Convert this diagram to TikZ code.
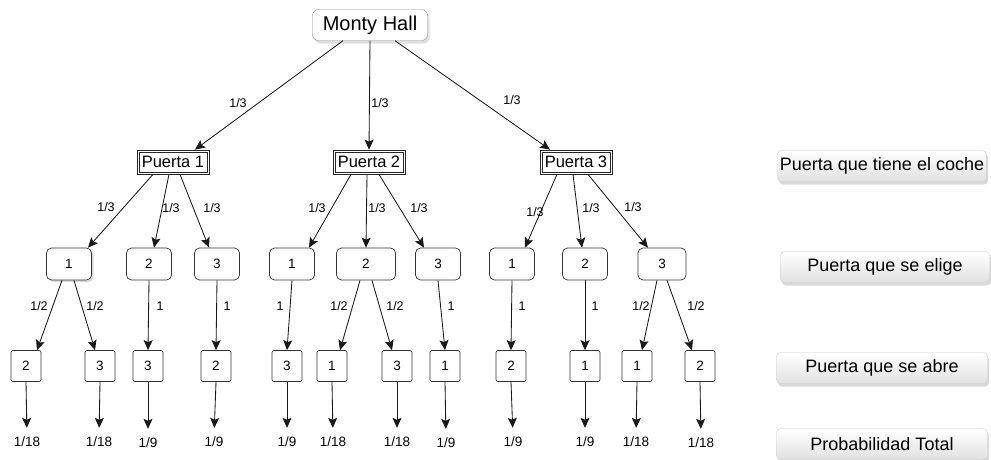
\documentclass[tikz,border=0pt]{standalone}
\usepackage{fontspec}
\setmainfont{Liberation Sans}
\usetikzlibrary{arrows.meta,shadows}
\begin{document}
\begin{tikzpicture}[x=1pt,y=-1pt,
  arr/.style={-{Stealth[length=10pt,width=9pt,inset=2pt]}, line width=0.85pt, draw=black!90},
  topbox/.style={draw=black!45, fill=white, rounded corners=6pt, minimum width=115pt, minimum height=31pt, inner sep=0pt, font=\fontsize{20}{22}\selectfont, drop shadow={shadow xshift=2pt, shadow yshift=-3pt, opacity=0.25}},
  door/.style={draw=black!85, line width=0.7pt, minimum width=72pt, minimum height=24pt, inner sep=0pt, font=\fontsize{16.5}{18}\selectfont},
  pick/.style={draw=black!80, line width=0.7pt, rounded corners=5pt, fill=white, minimum width=45pt, minimum height=32pt, inner sep=0pt, font=\fontsize{13.5}{15}\selectfont},
  leaf/.style={draw=black!80, line width=0.7pt, rounded corners=2pt, fill=white, minimum width=30pt, minimum height=31pt, inner sep=0pt, font=\fontsize{13.5}{15}\selectfont},
  lab/.style={inner sep=0pt, font=\fontsize{12.5}{14}\selectfont},
  prob/.style={inner sep=0pt, font=\fontsize{13.5}{15}\selectfont},
  inner/.style={draw=black!85, line width=0.7pt},
  side/.style={draw=black!20, rounded corners=4pt, top color=white, bottom color=black!12, minimum height=31pt, inner sep=0pt, font=\fontsize{18}{20}\selectfont, drop shadow={shadow xshift=1.5pt, shadow yshift=-3pt, opacity=0.3}}
]
\useasboundingbox (0,0) rectangle (991,459);

% root
\node[topbox] (mh) at (370,25) {Monty Hall};

% level 1
\node[door] (p1) at (173,162) {Puerta 1};
\node[door] (p2) at (369,162) {Puerta 2};
\node[door] (p3) at (576,162) {Puerta 3};
\foreach \p in {p1,p2,p3}{
  \draw[inner] ([shift={(2.5pt,-2.5pt)}]\p.north west) rectangle ([shift={(-2.5pt,2.5pt)}]\p.south east);
}

% level 2
\node[pick, drop shadow={shadow xshift=2pt, shadow yshift=-2pt, opacity=0.3}] (c11) at (69,264) {1};
\node[pick] (c12) at (149,264) {2};
\node[pick] (c13) at (217,264) {3};
\node[pick] (c21) at (292,264) {1};
\node[pick, minimum width=59pt] (c22) at (366,264) {2};
\node[pick] (c23) at (438,264) {3};
\node[pick] (c31) at (512,264) {1};
\node[pick] (c32) at (585,264) {2};
\node[pick, minimum width=48pt] (c33) at (662,264) {3};

% level 3
\node[leaf] (l1) at (26,366) {2};
\node[leaf] (l2) at (100,366) {3};
\node[leaf] (l3) at (148,366) {3};
\node[leaf] (l4) at (216,366) {2};
\node[leaf] (l5) at (287,366) {3};
\node[leaf] (l6) at (332,366) {1};
\node[leaf] (l7) at (397,366) {3};
\node[leaf] (l8) at (445,366) {1};
\node[leaf] (l9) at (511,366) {2};
\node[leaf] (l10) at (585,366) {1};
\node[leaf] (l11) at (637,366) {1};
\node[leaf] (l12) at (700,366) {2};

% totals
\node[prob] (t1) at (27,442) {1/18};
\node[prob] (t2) at (99,442) {1/18};
\node[prob] (t3) at (148,443) {1/9};
\node[prob] (t4) at (214,442) {1/9};
\node[prob] (t5) at (287,442) {1/9};
\node[prob] (t6) at (333,442) {1/18};
\node[prob] (t7) at (397,442) {1/18};
\node[prob] (t8) at (446,443) {1/9};
\node[prob] (t9) at (513,442) {1/9};
\node[prob] (t10) at (585,442) {1/9};
\node[prob] (t11) at (636,442) {1/18};
\node[prob] (t12) at (701,443) {1/18};

% side legend
\node[side, minimum width=209pt] (s1) at (882,166) {Puerta que tiene el coche};
\node[side, minimum width=209pt] (s2) at (885,267) {Puerta que se elige};
\node[side, minimum width=211pt] (s3) at (882,368) {Puerta que se abre};
\node[side, minimum width=211pt] (s4) at (882,444) {Probabilidad Total};

% root edges
\draw[arr] ([xshift=-27pt]mh.south) -- ([xshift=22pt]p1.north);
\draw[arr] (mh.south) -- (p2.north);
\draw[arr] ([xshift=25pt]mh.south) -- ([xshift=-26pt]p3.north);
\node[lab] (e01) at (238,103) {1/3};
\node[lab] (e02) at (380,103) {1/3};
\node[lab] (e03) at (512,100) {1/3};

% level 1 -> 2
\draw[arr] ([xshift=-20pt]p1.south) -- ([xshift=19pt]c11.north);
\draw[arr] ([xshift=-4pt]p1.south) -- ([xshift=5pt]c12.north);
\draw[arr] ([xshift=7pt]p1.south) -- ([xshift=-8pt]c13.north);
\draw[arr] ([xshift=-18pt]p2.south) -- ([xshift=17pt]c21.north);
\draw[arr] ([xshift=-2pt]p2.south) -- (c22.north);
\draw[arr] ([xshift=10pt]p2.south) -- ([xshift=-14pt]c23.north);
\draw[arr] ([xshift=-19pt]p3.south) -- ([xshift=13pt]c31.north);
\draw[arr] ([xshift=-3pt]p3.south) -- ([xshift=-3pt]c32.north);
\draw[arr] ([xshift=12pt]p3.south) -- ([xshift=-14pt]c33.north);
\node[lab] (e11) at (106,207) {1/3};
\node[lab] (e12) at (171,208) {1/3};
\node[lab] (e13) at (212,208) {1/3};
\node[lab] (e21) at (317,208) {1/3};
\node[lab] (e22) at (377,208) {1/3};
\node[lab] (e23) at (419,208) {1/3};
\node[lab] (e31) at (535,212) {1/3};
\node[lab] (e32) at (591,208) {1/3};
\node[lab] (e33) at (633,207) {1/3};

% level 2 -> 3
\draw[arr] ([xshift=-7pt]c11.south) -- ([xshift=11pt]l1.north);
\draw[arr] ([xshift=5pt]c11.south) -- ([xshift=-5pt]l2.north);
\draw[arr] (c12.south) -- (l3.north);
\draw[arr] (c13.south) -- (l4.north);
\draw[arr] (c21.south) -- (l5.north);
\draw[arr] ([xshift=-6pt]c22.south) -- ([xshift=8pt]l6.north);
\draw[arr] ([xshift=6pt]c22.south) -- ([xshift=-5pt]l7.north);
\draw[arr] (c23.south) -- (l8.north);
\draw[arr] (c31.south) -- (l9.north);
\draw[arr] (c32.south) -- (l10.north);
\draw[arr] ([xshift=-5pt]c33.south) -- ([xshift=5pt]l11.north);
\draw[arr] ([xshift=5pt]c33.south) -- ([xshift=-8pt]l12.north);
\node[lab] (f1) at (39,306) {1/2};
\node[lab] (f2) at (95,306) {1/2};
\node[lab] (f3) at (160,306) {1};
\node[lab] (f4) at (227,306) {1};
\node[lab] (f5) at (280,306) {1};
\node[lab] (f6) at (339,306) {1/2};
\node[lab] (f7) at (395,306) {1/2};
\node[lab] (f8) at (451,306) {1};
\node[lab] (f9) at (522,306) {1};
\node[lab] (f10) at (595,306) {1};
\node[lab] (f11) at (641,306) {1/2};
\node[lab] (f12) at (696,306) {1/2};

% leaf -> totals
\foreach \i in {1,...,12}{
  \draw[arr, shorten >=9pt] (l\i.south) -- (t\i.north);
}
\end{tikzpicture}
\end{document}
